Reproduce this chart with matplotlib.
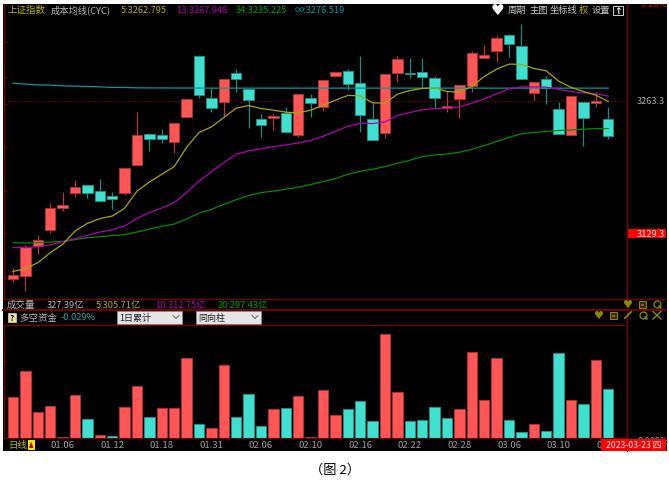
import matplotlib
matplotlib.use("Agg")
import matplotlib.pyplot as plt
from matplotlib.patches import Rectangle, Polygon

plt.rcParams['font.family'] = ['Noto Sans CJK SC', 'DejaVu Sans']

W, H = 669, 489

# daily candles, index 0 is the first bar on the left
opens = [3083.0, 3086.0, 3116.7, 3132.6, 3155.2, 3170.1, 3178.2, 3172.1, 3167.8, 3170.4,
         3199.2, 3229.9, 3228.6, 3222.5, 3247.8, 3308.6, 3266.3, 3262.6, 3291.7, 3275.5,
         3245.1, 3245.8, 3251.4, 3228.9, 3266.3, 3257.2, 3288.9, 3293.4, 3281.5, 3245.1,
         3231.2, 3291.4, 3291.7, 3293.0, 3286.9, 3256.9, 3266.0, 3278.8, 3306.9, 3313.6,
         3330.2, 3318.7, 3271.7, 3285.6, 3255.5, 3229.2, 3262.0, 3261.0, 3244.8]
closes = [3087.3, 3115.4, 3123.2, 3154.9, 3157.9, 3176.5, 3170.1, 3162.0, 3164.0, 3195.7,
          3228.6, 3225.1, 3225.1, 3241.0, 3265.0, 3269.4, 3255.9, 3285.3, 3285.6, 3264.0,
          3239.0, 3248.4, 3232.2, 3270.4, 3261.0, 3284.3, 3293.0, 3280.5, 3249.8, 3224.5,
          3290.3, 3305.5, 3291.0, 3287.3, 3267.0, 3258.2, 3279.5, 3311.6, 3309.6, 3326.8,
          3321.0, 3285.3, 3282.9, 3276.8, 3230.6, 3268.7, 3245.8, 3263.3, 3227.8]
highs = [3094.4, 3117.4, 3128.3, 3160.0, 3171.1, 3183.6, 3178.2, 3185.0, 3171.8, 3195.7,
         3251.9, 3231.6, 3235.6, 3241.0, 3267.0, 3309.6, 3276.8, 3285.3, 3295.7, 3276.2,
         3250.8, 3250.8, 3257.9, 3270.4, 3270.4, 3284.3, 3293.0, 3295.4, 3308.6, 3261.3,
         3290.3, 3308.6, 3306.6, 3306.9, 3288.3, 3273.7, 3279.5, 3314.0, 3319.7, 3328.8,
         3331.5, 3341.0, 3282.9, 3288.6, 3262.3, 3268.7, 3262.0, 3272.7, 3257.9]
lows = [3080.2, 3071.1, 3108.6, 3129.6, 3152.2, 3166.4, 3165.3, 3161.3, 3153.9, 3168.1,
        3197.8, 3212.6, 3220.8, 3211.3, 3247.8, 3267.0, 3252.5, 3247.8, 3272.7, 3235.9,
        3227.1, 3234.2, 3231.6, 3227.1, 3247.8, 3253.5, 3287.6, 3274.4, 3232.2, 3224.5,
        3226.5, 3282.5, 3286.6, 3276.2, 3254.9, 3252.5, 3246.4, 3272.7, 3306.9, 3302.5,
        3307.9, 3285.3, 3264.0, 3260.6, 3230.6, 3229.2, 3218.0, 3257.5, 3225.1]

cyc5 = [3091.1, 3093.8, 3099.9, 3110.0, 3118.4, 3131.9, 3139.7, 3144.5, 3147.1, 3154.9,
        3172.4, 3181.5, 3189.4, 3197.1, 3216.7, 3231.6, 3237.3, 3246.8, 3256.2, 3258.9,
        3255.9, 3254.2, 3252.2, 3251.4, 3254.2, 3259.2, 3264.3, 3269.1, 3268.7, 3261.6,
        3261.3, 3270.4, 3274.1, 3276.2, 3276.8, 3273.1, 3272.4, 3278.2, 3288.3, 3295.7,
        3300.8, 3300.5, 3296.4, 3294.0, 3283.6, 3277.2, 3273.1, 3269.4, 3263.0]
cyc13 = [3115.4, 3115.1, 3116.1, 3118.1, 3121.2, 3124.2, 3127.6, 3130.9, 3133.3, 3137.0,
         3144.8, 3150.6, 3155.2, 3160.7, 3170.8, 3182.6, 3191.7, 3201.2, 3209.6, 3213.0,
         3215.0, 3217.4, 3219.0, 3221.1, 3223.5, 3227.8, 3232.9, 3238.0, 3241.0, 3240.7,
         3242.3, 3248.8, 3251.9, 3254.5, 3255.9, 3256.2, 3257.5, 3261.3, 3265.6, 3270.7,
         3275.8, 3277.8, 3277.8, 3277.5, 3275.2, 3273.1, 3271.7, 3270.7, 3268.4]
cyc34 = [3120.2, 3119.8, 3120.2, 3120.8, 3121.5, 3123.2, 3125.2, 3126.2, 3127.3, 3128.3,
         3130.9, 3133.9, 3136.7, 3139.0, 3144.1, 3150.1, 3153.9, 3159.0, 3163.7, 3167.8,
         3170.8, 3172.4, 3174.2, 3176.2, 3178.9, 3182.0, 3185.0, 3189.4, 3192.4, 3194.4,
         3197.1, 3200.5, 3203.5, 3207.3, 3208.9, 3209.9, 3211.6, 3214.7, 3218.4, 3222.5,
         3226.8, 3230.2, 3231.6, 3232.6, 3233.6, 3234.2, 3234.9, 3235.6, 3235.6]
cyc_inf = [3281.5, 3280.5, 3279.8, 3279.5, 3278.8, 3278.5, 3278.2, 3277.8, 3277.2, 3277.2,
           3276.8, 3276.7, 3276.7, 3276.6, 3276.6, 3276.6, 3276.5, 3276.5, 3276.5, 3276.5,
           3276.5, 3276.5, 3276.5, 3276.5, 3276.5, 3276.5, 3276.5, 3276.5, 3276.5, 3276.5,
           3276.5, 3276.5, 3276.5, 3276.5, 3276.5, 3276.5, 3276.5, 3276.5, 3276.5, 3276.5,
           3276.5, 3276.5, 3276.5, 3276.5, 3276.5, 3276.5, 3276.5, 3276.5, 3276.5]
price_ticks = [3323.1, 3287.6, 3260.3, 3216.7, 3172.1, 3129.6, 3086.0]

# lower panel: bar size and whether it is a red (1) or teal (0) day
flow = [40.7, 67.3, 25.7, 31.7, 1.0, 43.0, 18.7, 3.3, 1.7, 31.0,
        52.0, 21.3, 29.7, 30.3, 80.3, 13.7, 10.0, 73.0, 21.3, 43.7,
        12.0, 29.0, 30.3, 41.7, 1.0, 47.7, 23.0, 29.0, 37.0, 17.3,
        103.7, 45.7, 16.7, 18.0, 31.0, 20.0, 28.7, 86.3, 38.3, 80.3,
        18.0, 6.0, 14.0, 7.3, 85.0, 37.7, 34.3, 78.3, 48.7]
flow_red = [1, 1, 1, 1, 1, 1, 0, 1, 0, 1,
            1, 0, 1, 1, 1, 0, 1, 1, 0, 0,
            0, 1, 0, 1, 1, 1, 1, 0, 0, 0,
            1, 1, 0, 0, 0, 0, 1, 1, 1, 1,
            0, 0, 1, 0, 0, 1, 0, 1, 0]
date_pos = [4, 8, 12, 16, 20, 24, 28, 32, 36, 40, 44, 48]
date_labels = ['01.06', '01.12', '01.18', '01.31', '02.06', '02.10',
               '02.16', '02.22', '02.28', '03.06', '03.10', '03.16']

RED, RED_E, RED_W = '#ff5555', '#a83434', '#b03a3a'
TEAL, TEAL_E, TEAL_W = '#40e0d0', '#1f8f85', '#1f8a82'
DARK = '#7a0000'
GRAY = '#b8b8b8'
OLIVE = '#8a8a00'
YEL, MAG, GRN, CYN = '#a8a800', '#b000b0', '#008c00', '#009a9a'


def px_axes(z):
    a = fig.add_axes([0, 0, 1, 1], zorder=z)
    a.set_xlim(0, W)
    a.set_ylim(H, 0)
    a.axis('off')
    a.patch.set_alpha(0)
    return a


def rect_for(left, top, right, bottom):
    return [left / W, 1 - bottom / H, (right - left) / W, (bottom - top) / H]


fig = plt.figure(figsize=(W / 100, H / 100), dpi=100, facecolor='white')

bg = px_axes(0)
bg.add_patch(Rectangle((3, 5), 663.5, 447, fc='black', ec='none'))

# main panel
ax = fig.add_axes(rect_for(4, 5, 626.7, 299.5), zorder=1)
ax.patch.set_alpha(0)
xs = list(range(len(opens)))
for i in xs:
    up = closes[i] >= opens[i]
    ax.vlines(i, lows[i], highs[i], color=RED_W if up else TEAL_W, lw=0.9, zorder=2)
    ax.bar(i, abs(closes[i] - opens[i]), bottom=min(opens[i], closes[i]), width=0.84,
           color=RED if up else TEAL, edgecolor=RED_E if up else TEAL_E, lw=0.7, zorder=3)
ax.plot(xs, cyc_inf, color=CYN, lw=0.9, zorder=4)
ax.plot(xs, cyc34, color=GRN, lw=0.9, zorder=4)
ax.plot(xs, cyc13, color=MAG, lw=0.9, zorder=4)
ax.plot(xs, cyc5, color=YEL, lw=0.9, zorder=4)
ax.axhline(3263.3, color='#a00000', lw=0.8, ls=(0, (1, 2)), zorder=1)
ax.set_xlim(-0.726, 49.49)
ax.set_ylim(3063.7, 3361.6)
ax.set_xticks([])
ax.set_yticks(price_ticks)
ax.set_yticklabels([])
ax.tick_params(axis='y', direction='in', length=2, width=0.8, color=DARK)
for s in ['top', 'right', 'bottom']:
    ax.spines[s].set_visible(False)
ax.spines['left'].set_color(DARK)
ax.spines['left'].set_linewidth(0.8)

# lower panel
ax2 = fig.add_axes(rect_for(4, 325.5, 626.7, 439), zorder=1)
ax2.patch.set_alpha(0)
ax2.bar(xs, flow, width=0.84,
        color=[RED if r else TEAL for r in flow_red],
        edgecolor=[RED_E if r else TEAL_E for r in flow_red], lw=0.7)
ax2.set_xlim(-0.726, 49.49)
ax2.set_ylim(0, 113.5)
ax2.set_xticks(date_pos)
ax2.set_xticklabels(date_labels, fontsize=6.9, color='#a0a0a0')
ax2.set_yticks([42, 77])
ax2.set_yticklabels([])
ax2.tick_params(axis='x', length=0, pad=1.5)
ax2.tick_params(axis='y', direction='in', length=2, width=0.8, color=DARK)
for s in ['top', 'right']:
    ax2.spines[s].set_visible(False)
ax2.spines['bottom'].set_color(DARK)
ax2.spines['left'].set_color(DARK)

top = px_axes(5)


def put(x, y, s, color=GRAY, size=6.7, ha='left', **kw):
    top.text(x, y, s, color=color, fontsize=size, ha=ha, va='center', **kw)


# panel rules
top.plot([626.7, 626.7], [5, 452], color=DARK, lw=1.0)
top.plot([3, 666], [299.5, 299.5], color=DARK, lw=0.9)
top.plot([3, 666], [310.8, 310.8], color=DARK, lw=1.4)
top.plot([3, 626.7], [325.5, 325.5], color=DARK, lw=0.9)

# header line
put(8, 10.5, '上证指数', '#b8b800', 6.8)
put(51, 10.5, '成本均线(CYC)', GRAY)
put(120.5, 10.5, '5:3262.795', '#b0b000')
put(176, 10.5, '13:3267.948', '#b000b0')
put(235.5, 10.5, '34:3235.225', '#00a000')
put(295, 10.5, '∞:3276.519', '#00a0a0')
put(497.5, 10.5, '♥', 'white', 11, ha='center', family='DejaVu Sans')
put(508, 10.5, '周期', '#c8c8c8')
put(529.5, 10.5, '主图', '#c8c8c8')
put(550, 10.5, '坐标线', '#c8c8c8')
put(579, 10.5, '权', '#b8b800')
put(592, 10.5, '设置', '#c8c8c8')
top.add_patch(Rectangle((613, 6.5), 10, 9.5, fc='black', ec='#d0d0d0', lw=0.7))
put(618, 11, '↑', 'white', 6.5, ha='center', family='DejaVu Sans', fontweight='bold')
put(640, 4.5, '1.16%', '#e00000', 6.7)
top.add_patch(Rectangle((0, 0), W, 5, fc='white', ec='none', zorder=5))

# right axis labels
put(636.5, 102, '3263.3', '#a8a8a8')
top.add_patch(Rectangle((627, 230), 39, 9, fc='#ff0000', ec='none'))
put(636.5, 234.5, '3129.3', '#ffe8e8')
put(638, 441, '0.000%', '#a0a0a0', 6.5)

# volume strip
put(7, 305.5, '成交量', GRAY, 6.8)
put(47, 305.5, '327.39亿', GRAY)
put(96, 305.5, '5:305.71亿', '#b0b000')
put(155, 305.5, '10:312.75亿', '#b000b0')
put(218, 305.5, '20:297.43亿', '#00a000')
put(627.5, 305, '♥', OLIVE, 8, ha='center', family='DejaVu Sans')
put(599, 316, '♥', OLIVE, 8, ha='center', family='DejaVu Sans')
for bx, by in [(642, 305), (613.7, 316)]:
    top.add_patch(Rectangle((bx - 3.5, by - 3.5), 7, 7, fc='#303000', ec=OLIVE, lw=0.7))
    top.add_patch(Rectangle((bx - 1.5, by - 0.5), 3, 2, fc='#c04040', ec='none'))
for mx, my in [(657, 305), (643, 316)]:
    top.plot([mx], [my - 0.5], marker='o', ms=5, mfc='none', mec=OLIVE, mew=0.9)
    top.plot([mx + 2, mx + 4], [my + 2, my + 4], color=OLIVE, lw=1.1)
top.plot([625, 628, 628, 631], [319, 316, 316, 313], color=OLIVE, lw=1.3)
top.plot([653, 661], [312.5, 320], color=OLIVE, lw=1.0)
top.plot([653, 661], [320, 312.5], color=OLIVE, lw=1.0)

# indicator strip
top.add_patch(Rectangle((7.5, 314), 8, 8.5, fc='#f0e8a0', ec='#d0d0d0', lw=0.5))
put(11.5, 318.2, '?', 'black', 6, ha='center', fontweight='bold')
put(19, 318, '多空资金', GRAY, 6.8)
put(61, 318, '-0.029%', '#20a8a0')
for left, right, label in [(117, 182, '1日累计'), (196, 261, '同向柱')]:
    top.add_patch(Rectangle((left, 311.5), right - left, 13, fc='#e6e6e6', ec='#909090', lw=0.5))
    put(left + 2.5, 318, label, '#202020', 6.5)
    top.plot([right - 9, right - 6, right - 3], [316.5, 319.5, 316.5], color='#505050', lw=0.6)

# bottom strip
put(8, 445.5, '日线', '#b8b800', 6.8)
top.add_patch(Rectangle((27.5, 441), 7.5, 9.5, fc='#e8e800', ec='none'))
top.add_patch(Polygon([(31.2, 442.5), (29, 449), (33.5, 449)], fc='#c00000', ec='none'))
top.add_patch(Rectangle((600.7, 440), 65.5, 11.5, fc='#ff0000', ec='none', zorder=4))
top.text(606, 445.5, '2023-03-23 四', color='#ffecec', fontsize=6.3, ha='left', va='center', zorder=4.5)

# caption
put(335, 470.5, '（图 2）', 'black', 9.5, ha='center', fontweight='medium')

fig.savefig('out.png', dpi=100)
